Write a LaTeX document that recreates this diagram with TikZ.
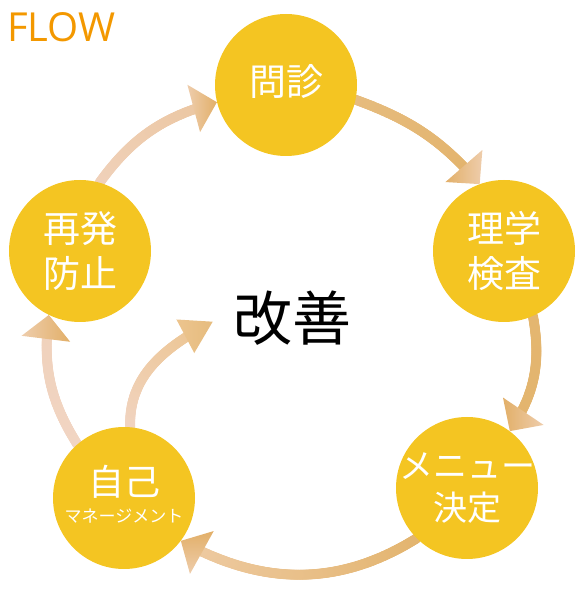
\documentclass[tikz,border=0pt]{standalone}
\usepackage{fontspec}
\setmainfont{Open Sans}
\newfontfamily\jp{Noto Sans CJK JP}
\usetikzlibrary{decorations.markings}
\definecolor{ylw}{HTML}{F4C522}
\definecolor{flowor}{HTML}{F39800}
\pgfdeclarelayer{bg}
\pgfsetlayers{bg,main}
\tikzset{
  strokeend/.store in=\strokeend, strokeend=-18pt,
  stepcircle/.style={circle, fill=ylw, minimum size=142pt, inner sep=-40pt,
    text=white, align=center},
  gradarc/.style n args={2}{postaction={decorate}, decoration={markings,
    mark=between positions 0 and \strokeend step 0.7pt with {%
      \pgfmathsetmacro\pp{(\pgfkeysvalueof{/pgf/decoration/mark info/distance from start})/(\pgfdecoratedpathlength)*100}%
      \fill[#2!\pp!#1] (0,0) circle (5pt);}}},
}
% arrow head: tip point, direction, shading options, length, half width
\newcommand\drawhead[5]{%
  \begin{scope}[shift={(#1)}, rotate=#2]
    \shade[#3] (-#4,-#5) -- (0pt,0pt) -- (-#4,#5) -- cycle;
  \end{scope}}
\definecolor{aA}{HTML}{F0D1BA}\definecolor{aB}{HTML}{EBC6A0}
\definecolor{bA}{HTML}{E6BC7E}\definecolor{bB}{HTML}{E3B36C}
\definecolor{cA}{HTML}{E4B670}\definecolor{cB}{HTML}{E3B46E}
\definecolor{dA}{HTML}{E3B46E}\definecolor{dB}{HTML}{EECBA4}
\definecolor{eA}{HTML}{F1D5C3}\definecolor{eB}{HTML}{F0D1BB}
\definecolor{fA}{HTML}{F1D4C2}\definecolor{fB}{HTML}{ECC48E}
\definecolor{hLight}{HTML}{EECDAC}
\definecolor{hTan}{HTML}{E2AF68}
\begin{document}
\begin{tikzpicture}[x=1pt,y=1pt]
\useasboundingbox (0,0) rectangle (582,603);
\node[anchor=base west, text=flowor, font=\fontsize{40}{40}\selectfont, inner sep=0pt] (flow) at (7,561) {FLOW};
\node[stepcircle, font=\jp\fontsize{37}{45}\selectfont] (mon) at (286,518) {問診\\[-35pt]};
\node[stepcircle, font=\jp\fontsize{37}{45}\selectfont] (ri) at (504,352) {理学\\検査};
\node[stepcircle, font=\jp\fontsize{34}{42}\selectfont] (me) at (467,115) {メニュー\\決定};
\node[stepcircle, font=\jp] (ji) at (124,105) {\fontsize{36}{36}\selectfont 自己\\[9pt]\fontsize{17}{20}\selectfont マネージメント\\[-4pt]};
\node[stepcircle, font=\jp\fontsize{37}{45}\selectfont] (sa) at (80,352) {再発\\防止};
\node[font=\jp\fontsize{59}{59}\selectfont, text=black] (kz) at (292,285) {改善};
\coordinate (kzin) at (212.7,281.3);
\begin{pgfonlayer}{bg}
\path[gradarc={aA}{aB}] (sa.74) to[out=54,in=195] (mon.194);
\path[gradarc={bA}{bB}] (mon.-12) to[out=-20,in=131] (ri.110);
\path[gradarc={cA}{cB}] (ri.-66) to[out=-80,in=56] (me.53.5);
\path[gradarc={dA}{dB}] (me.225) to[out=212,in=-29] (ji.-37);
\path[gradarc={eA}{eB}] (ji.131) to[out=122,in=-97] (sa.244);
\path[gradarc={fA}{fB}] (ji.85) to[out=92,in=208] (kzin);
\drawhead{mon.194}{15}{left color=hLight, right color=hTan}{24pt}{24.5pt}
\drawhead{ri.110}{-49}{left color=hTan, right color=hLight}{24pt}{24.5pt}
\drawhead{me.53.5}{-124}{left color=hTan, right color=hLight}{24pt}{24.5pt}
\drawhead{ji.-37}{151}{top color=hTan, bottom color=hLight}{24pt}{24.5pt}
\drawhead{sa.244}{83}{left color=hLight, right color=hTan}{24pt}{24.5pt}
\drawhead{kzin}{28}{left color=fB, right color=bA}{31pt}{19pt}
\end{pgfonlayer}
\end{tikzpicture}
\end{document}
